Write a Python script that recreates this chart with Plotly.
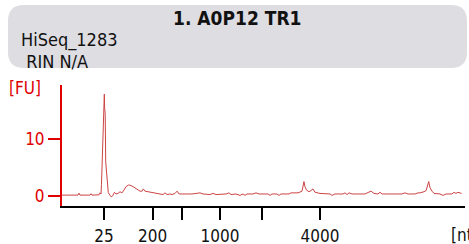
import plotly.graph_objects as go

# migration time (s) and fluorescence (FU)
time_s = [19.00, 20.61, 20.99, 21.11, 21.23, 22.47, 22.60, 22.72, 23.59, 23.71, 23.84, 23.90,
          24.00, 24.09, 24.19, 24.25, 24.29, 24.36, 24.42, 24.52, 24.62, 24.74, 24.96, 25.17,
          25.33, 25.51, 25.70, 25.95, 26.20, 26.44, 26.69, 26.94, 27.25, 27.56, 27.93, 28.31,
          28.68, 28.93, 29.09, 29.30, 29.67, 30.17, 30.66, 31.16, 31.53, 31.78, 32.03, 32.40,
          32.65, 33.02, 33.27, 33.52, 34.27, 35.13, 36.12, 36.49, 37.36, 37.73, 38.11, 39.35,
          39.72, 39.97, 40.59, 41.08, 41.46, 41.71, 41.95, 42.70, 43.07, 43.44, 44.56, 44.81,
          45.05, 45.67, 45.92, 46.17, 47.16, 47.41, 48.28, 48.78, 49.02, 49.14, 49.33, 49.64,
          49.89, 50.14, 50.39, 51.01, 52.25, 52.50, 52.87, 53.86, 54.11, 54.36, 54.61, 54.98,
          56.59, 56.96, 57.33, 57.71, 58.20, 58.45, 58.71, 61.18, 61.56, 61.93, 62.80, 63.17,
          63.42, 63.91, 64.17, 64.50, 64.66, 64.91, 65.15, 65.90, 66.27, 66.64, 67.38, 67.63,
          67.87, 68.12, 68.58]
fu = [0.1, 0.1, 0.1, 0.45, 0.1, 0.1, 0.35, 0.1, 0.15, 0.5, 0.3, 2.0,
      8.2, 10.5, 16.0, 18.0, 15.5, 14.5, 6.0, 4.5, 3.4, 0.6, 0.0, -0.2,
      0.1, 0.6, 0.3, 0.4, 0.7, 0.5, 1.0, 1.6, 1.9, 1.8, 1.5, 1.1,
      0.8, 0.8, 1.2, 0.8, 0.7, 0.6, 0.5, 0.3, 0.2, 0.5, 0.2, 0.3,
      0.2, 0.4, 0.8, 0.3, 0.3, 0.3, 0.5, 0.3, 0.2, 0.4, 0.2, 0.3,
      0.5, 0.2, 0.3, 0.05, 0.3, 0.05, 0.3, 0.3, 0.5, 0.3, 0.3, 0.05,
      0.3, 0.3, 0.05, 0.3, 0.3, 0.5, 0.5, 0.8, 2.5, 1.6, 1.0, 0.7,
      0.9, 1.2, 0.6, 0.4, 0.3, 0.05, 0.3, 0.3, 0.5, 0.2, 0.5, 0.3,
      0.3, 0.5, 0.8, 0.4, 0.3, 0.6, 0.3, 0.3, 0.5, 0.3, 0.3, 0.5,
      0.5, 0.7, 0.9, 2.5, 1.4, 0.8, 0.4, 0.3, 0.05, 0.3, 0.3, 0.6,
      0.4, 0.6, 0.4]

# ladder: tick positions (s) and sizes (nt)
ladder_time = [24.21, 30.25, 33.89, 38.60, 43.81, 51.01]
ladder_label = ["25", "200", "", "1000", "", "4000"]

y_ticks = [0, 10]

title = "1. A0P12 TR1"
sample = "HiSeq_1283"
rin = " RIN N/A"

W, H = 469, 244
L, R, T, B = 62, 4, 85, 38
PW, PH = W - L - R, H - T - B

def px(x):
    return (x - L) / PW

def py(y):
    return (H - B - y) / PH

FONT = "Tahoma, 'DejaVu Sans Condensed', 'DejaVu Sans', sans-serif"

fig = go.Figure()
fig.add_trace(go.Scatter(x=time_s, y=fu, mode="lines",
                         line=dict(color="#cc4444", width=1), hoverinfo="skip"))

# rounded header box
x0, y0, x1, y1, r = 8, 5, 467, 68, 16
path = (f"M {px(x0+r)},{py(y0)} L {px(x1-r)},{py(y0)} Q {px(x1)},{py(y0)} {px(x1)},{py(y0+r)} "
        f"L {px(x1)},{py(y1-r)} Q {px(x1)},{py(y1)} {px(x1-r)},{py(y1)} "
        f"L {px(x0+r)},{py(y1)} Q {px(x0)},{py(y1)} {px(x0)},{py(y1-r)} "
        f"L {px(x0)},{py(y0+r)} Q {px(x0)},{py(y0)} {px(x0+r)},{py(y0)} Z")
fig.add_shape(type="path", path=path, xref="paper", yref="paper",
              fillcolor="#dddde2", line=dict(width=0), layer="below")

anns = [
    dict(text=f"<b>{title}</b>", x=px(237), y=py(18), xanchor="center", yanchor="middle",
         font=dict(size=19, color="#111111")),
    dict(text=sample, x=px(19), y=py(40), xanchor="left", yanchor="middle",
         font=dict(size=18, color="#111111")),
    dict(text=rin, x=px(19), y=py(61), xanchor="left", yanchor="middle",
         font=dict(size=18, color="#111111")),
    dict(text="[FU]", x=px(7), y=py(88), xanchor="left", yanchor="middle",
         font=dict(size=17, color="#e00000")),
    dict(text="[nt]", x=px(449), y=py(235), xanchor="left", yanchor="middle",
         font=dict(size=17, color="#111111")),
]
for a in anns:
    a.update(xref="paper", yref="paper", showarrow=False, font_family=FONT)
    fig.add_annotation(**a)

fig.update_layout(
    width=W, height=H, margin=dict(l=L, r=R, t=T, b=B, autoexpand=False),
    paper_bgcolor="white", plot_bgcolor="white", showlegend=False,
    font=dict(family=FONT),
    xaxis=dict(range=[19, 69], showgrid=False, zeroline=False, automargin=False,
               showline=True, linecolor="black", linewidth=2,
               tickmode="array", tickvals=ladder_time, ticktext=ladder_label,
               ticks="outside", ticklen=12, tickwidth=2, tickcolor="black",
               ticklabelstandoff=2,
               tickfont=dict(size=17, color="#111111")),
    yaxis=dict(range=[-1.83, 19.62], showgrid=False, zeroline=False, automargin=False,
               showline=True, linecolor="#e00000", linewidth=2,
               tickmode="array", tickvals=y_ticks,
               ticks="outside", ticklen=12, tickwidth=2, tickcolor="#e00000",
               tickfont=dict(size=17, color="#e00000")),
)

fig.write_html("out.html", config={"displayModeBar": False},
               post_script="document.body.style.margin='0';document.body.style.overflow='hidden';")
